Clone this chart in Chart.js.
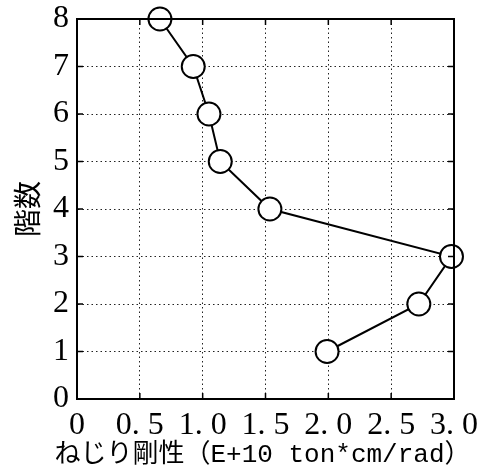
<!DOCTYPE html>
<html>
<head>
<meta charset="utf-8">
<script src="https://cdn.jsdelivr.net/npm/chart.js@4"></script>
<style>
  html, body { margin: 0; padding: 0; background: #fff; }
  #wrap { width: 481px; height: 470px; }
</style>
</head>
<body>
<div id="wrap"><canvas id="c" width="481" height="470"></canvas></div>
<script>
// 階数 (floor) y ねじり剛性 (E+10 ton*cm/rad)
const floors = [1, 2, 3, 4, 5, 6, 7, 8];
const stiffness = [1.99, 2.72, 2.98, 1.535, 1.14, 1.05, 0.925, 0.66];
const xTicks = [0, 0.5, 1.0, 1.5, 2.0, 2.5, 3.0];
const xTickLabels = ['0', '0. 5', '1. 0', '1. 5', '2. 0', '2. 5', '3. 0'];
const yTicks = [0, 1, 2, 3, 4, 5, 6, 7, 8];
const xTitle = 'ねじり剛性（E+10 ton*cm/rad）';
const yTitle = '階数';

const serif = "'Liberation Serif', 'DejaVu Serif', serif";
const cjk = "'Noto Sans CJK JP', 'Noto Sans', sans-serif";
const monoCjk = "'Liberation Mono', 'Noto Sans CJK JP', sans-serif";

// marcas interiores, borde superior/derecho y titulo X (sin maxWidth)
const frame = {
  id: 'frame',
  afterDraw(ch) {
    const { ctx, chartArea: a, scales } = ch;
    ctx.save();
    ctx.strokeStyle = '#000';
    ctx.lineWidth = 2;
    ctx.beginPath();
    ctx.moveTo(a.left, a.top); ctx.lineTo(a.right, a.top); ctx.lineTo(a.right, a.bottom);
    ctx.stroke();
    ctx.lineWidth = 1.5;
    ctx.beginPath();
    xTicks.forEach(v => {
      const p = scales.x.getPixelForValue(v);
      ctx.moveTo(p, a.bottom); ctx.lineTo(p, a.bottom - 6);
      ctx.moveTo(p, a.top); ctx.lineTo(p, a.top + 6);
    });
    yTicks.forEach(v => {
      const p = scales.y.getPixelForValue(v);
      ctx.moveTo(a.left, p); ctx.lineTo(a.left + 6, p);
      ctx.moveTo(a.right, p); ctx.lineTo(a.right - 6, p);
    });
    ctx.stroke();

    ctx.fillStyle = '#000';
    ctx.font = '26px ' + monoCjk;
    ctx.textAlign = 'center';
    ctx.textBaseline = 'middle';
    ctx.fillText(xTitle, (scales.x.left + scales.x.right) / 2 - 3, scales.x.bottom - 15);
    ctx.restore();
  }
};

new Chart(document.getElementById('c'), {
  type: 'scatter',
  data: {
    datasets: [{
      data: floors.map((f, i) => ({ x: stiffness[i], y: f })),
      showLine: true,
      borderColor: '#000',
      borderWidth: 2,
      pointRadius: 11.5,
      pointHoverRadius: 11.5,
      pointBackgroundColor: '#fff',
      pointBorderColor: '#000',
      pointBorderWidth: 2,
      clip: false
    }]
  },
  options: {
    responsive: false,
    animation: false,
    layout: { padding: { top: 19, right: 27, left: 0, bottom: 0 } },
    plugins: { legend: { display: false }, tooltip: { enabled: false } },
    scales: {
      x: {
        type: 'linear',
        min: 0, max: 3,
        afterBuildTicks: s => { s.ticks = xTicks.map(v => ({ value: v })); },
        afterFit: s => { s.height = 71; s.paddingLeft = 0; s.paddingRight = 0; },
        ticks: {
          color: '#000',
          font: { family: serif, size: 32 },
          padding: 7,
          maxRotation: 0,
          autoSkip: false,
          callback: (v) => xTickLabels[xTicks.indexOf(v)]
        },
        grid: { color: '#222', lineWidth: 1, drawTicks: false },
        border: { display: true, color: '#000', width: 2, dash: [1.5, 3] },
        title: { display: false, text: xTitle }
      },
      y: {
        type: 'linear',
        min: 0, max: 8,
        afterBuildTicks: s => { s.ticks = yTicks.map(v => ({ value: v })); },
        afterFit: s => { s.width = 77; s.paddingTop = 0; s.paddingBottom = 0; },
        ticks: {
          color: '#000',
          font: { family: serif, size: 32 },
          padding: 8
        },
        grid: { color: '#222', lineWidth: 1, drawTicks: false },
        border: { display: true, color: '#000', width: 2, dash: [1.5, 3] },
        title: {
          display: true,
          text: yTitle,
          color: '#000',
          font: { family: cjk, size: 28 },
          padding: { top: 11, bottom: 0 }
        }
      }
    }
  },
  plugins: [frame]
});
</script>
</body>
</html>
